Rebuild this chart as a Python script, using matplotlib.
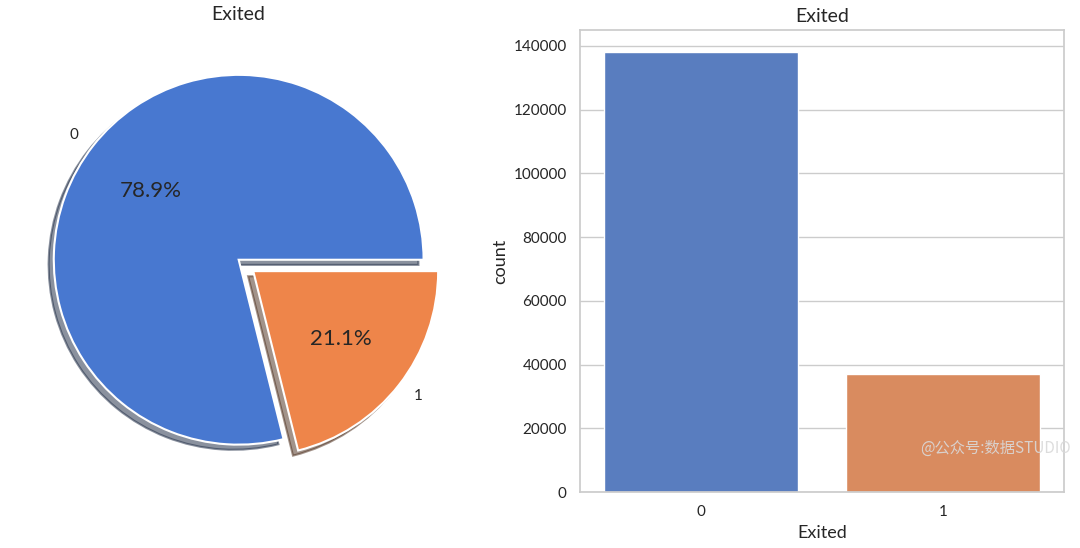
import matplotlib
matplotlib.use("Agg")
import matplotlib.pyplot as plt
import seaborn as sns

categories = ["0", "1"]
counts = [138000, 36900]
yticks = [0, 20000, 40000, 60000, 80000, 100000, 120000, 140000]

sns.set_theme(style="whitegrid", palette="muted")
plt.rcParams['font.family'] = ['Lato', 'DejaVu Sans']

colors = sns.color_palette("muted")[:2]
bar_colors = [sns.desaturate(c, 0.75) for c in colors]

fig = plt.figure(figsize=(10.8, 5.48), dpi=100)
ax1 = fig.add_axes([0.007, 0.104, 0.428, 0.844])
ax2 = fig.add_axes([0.537, 0.102, 0.448, 0.843])

# pie
wedges, texts, autotexts = ax1.pie(
    counts, labels=categories, explode=[0, 0.1], autopct='%1.1f%%',
    shadow=True, colors=colors,
    wedgeprops=dict(edgecolor='white', linewidth=1.5),
    textprops=dict(fontsize=11, color='#262626'))
for t in autotexts:
    t.set_fontsize(16)
ax1.set_title("Exited", fontsize=14, color='#262626')

# count bars
x = list(range(len(categories)))
ax2.bar(x, counts, width=0.8, color=bar_colors)
ax2.set_xticks(x)
ax2.set_xticklabels(categories)
ax2.set_xlim(-0.5, 1.5)
ax2.set_yticks(yticks)
ax2.grid(axis='x', visible=False)
ax2.set_axisbelow(True)
ax2.tick_params(labelsize=11)
ax2.set_title("Exited", fontsize=14, color='#262626')
ax2.set_xlabel("Exited", fontsize=13)
ax2.set_ylabel("count", fontsize=13)

# watermark
fig.text(0.852, 0.173, "@公众号:数据STUDIO", fontsize=11, color='#d9d9d9', alpha=0.9,
         family=['Noto Sans CJK SC', 'DejaVu Sans'])

fig.savefig("out.png", dpi=100)
